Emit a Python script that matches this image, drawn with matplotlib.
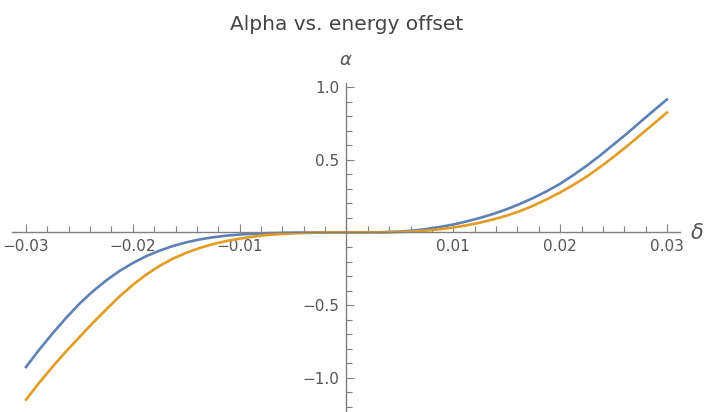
import matplotlib
matplotlib.use("Agg")
import matplotlib.pyplot as plt
from matplotlib.ticker import FixedLocator, MultipleLocator, FuncFormatter

# --- data ---
delta = [-0.03, -0.02875, -0.0275, -0.02625, -0.025, -0.02375, -0.0225, -0.02125,
         -0.02, -0.01875, -0.0175, -0.01625, -0.015, -0.01375, -0.0125, -0.01125,
         -0.01, -0.00875, -0.0075, -0.00625, -0.005, -0.00375, -0.0025, -0.00125,
         0.0, 0.00125, 0.0025, 0.00375, 0.005, 0.00625, 0.0075, 0.00875,
         0.01, 0.01125, 0.0125, 0.01375, 0.015, 0.01625, 0.0175, 0.01875,
         0.02, 0.02125, 0.0225, 0.02375, 0.025, 0.02625, 0.0275, 0.02875, 0.03]
alpha_blue = [-0.925, -0.805, -0.693, -0.588, -0.49, -0.405, -0.33, -0.265,
              -0.21, -0.163, -0.125, -0.093, -0.068, -0.048, -0.033, -0.022,
              -0.014, -0.009, -0.005, -0.003, -0.001, -0.0005, 0.0, 0.0,
              0.0, 0.0, 0.001, 0.003, 0.006, 0.013, 0.024, 0.038,
              0.055, 0.076, 0.10, 0.128, 0.16, 0.197, 0.238, 0.284,
              0.335, 0.395, 0.46, 0.53, 0.605, 0.68, 0.76, 0.838, 0.915]
alpha_orange = [-1.15, -1.032, -0.922, -0.818, -0.72, -0.622, -0.53, -0.44,
                -0.36, -0.29, -0.23, -0.18, -0.14, -0.107, -0.08, -0.059,
                -0.042, -0.029, -0.018, -0.011, -0.006, -0.003, -0.001, 0.0,
                0.0, 0.0, 0.0, 0.001, 0.003, 0.007, 0.013, 0.022,
                0.034, 0.049, 0.068, 0.09, 0.116, 0.147, 0.185, 0.228,
                0.275, 0.328, 0.385, 0.45, 0.52, 0.593, 0.67, 0.747, 0.825]

x_ticks = [-0.03, -0.02, -0.01, 0.01, 0.02, 0.03]
y_ticks = [-1.0, -0.5, 0.5, 1.0]

axis_col = "#808080"
text_col = "#555555"

fig = plt.figure(figsize=(7.09, 4.12), dpi=100)
ax = fig.add_axes([12 / 709, 0.0, 668 / 709, 329 / 412])

ax.plot(delta, alpha_blue, color="#5E81B5", lw=1.9, solid_joinstyle="round")
ax.plot(delta, alpha_orange, color="#E19C24", lw=1.9, solid_joinstyle="round")

ax.set_xlim(-0.03131, 0.03122)
ax.set_ylim(-1.2345, 1.028)

# Mathematica-style axes through the origin
for s in ["top", "right"]:
    ax.spines[s].set_visible(False)
ax.spines["left"].set_position(("data", 0))
ax.spines["bottom"].set_position(("data", 0))
for s in ["left", "bottom"]:
    ax.spines[s].set_color(axis_col)
    ax.spines[s].set_linewidth(1.0)

ax.xaxis.set_major_locator(FixedLocator(x_ticks))
ax.xaxis.set_minor_locator(MultipleLocator(0.002))
ax.yaxis.set_major_locator(FixedLocator(y_ticks))
ax.yaxis.set_minor_locator(MultipleLocator(0.1))
ax.xaxis.set_major_formatter(FuncFormatter(lambda v, p: f"{v:.2f}".replace("-", "\u2212")))
ax.yaxis.set_major_formatter(FuncFormatter(lambda v, p: f"{v:.1f}".replace("-", "\u2212")))

ax.tick_params(axis="both", which="major", direction="in", length=5.5, width=0.8,
               color=axis_col, labelcolor=text_col, labelsize=11)
ax.tick_params(axis="both", which="minor", direction="in", length=4, width=0.8,
               color=axis_col)
ax.tick_params(axis="x", which="major", pad=5)
ax.tick_params(axis="y", which="major", pad=5)
ax.patch.set_visible(False)

fig.text(697 / 709, 1 - 233 / 412, "\u03b4", color=text_col, fontsize=15,
         style="italic", ha="center", va="center")
fig.text(345 / 709, 1 - 60 / 412, "\u03b1", color=text_col, fontsize=13,
         style="italic", ha="center", va="center")
fig.text(347 / 709, 1 - 25 / 412, "Alpha vs. energy offset", color="#444444",
         fontsize=14.5, ha="center", va="center")

fig.savefig("out.png", dpi=100)
